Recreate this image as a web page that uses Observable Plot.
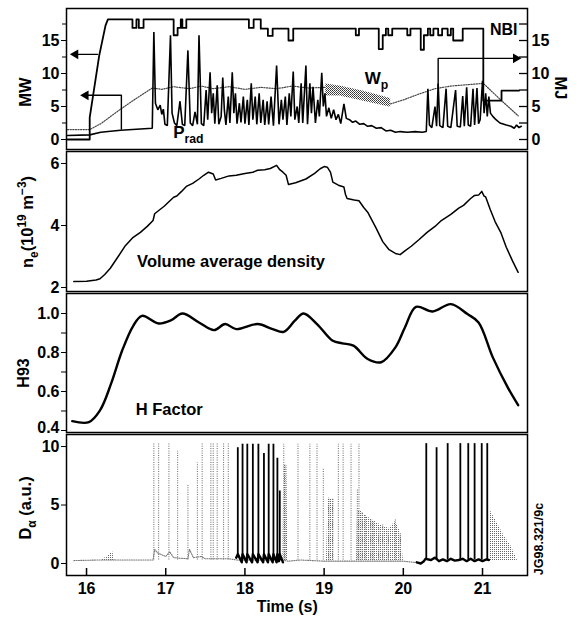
<!DOCTYPE html>
<html><head><meta charset="utf-8">
<script src="https://cdn.jsdelivr.net/npm/d3@7"></script>
<script src="https://cdn.jsdelivr.net/npm/@observablehq/plot@0.6"></script>
<style>
body{margin:0;background:#fff;}
#chart{width:577px;height:620px;}
#chart svg{display:block;}
</style></head><body>
<svg width="0" height="0" style="position:absolute"><defs>
<pattern id="dots" width="2" height="2" patternUnits="userSpaceOnUse"><rect width="1" height="1" fill="#333"/><rect x="1" y="1" width="1" height="1" fill="#555"/></pattern>
<pattern id="dotsLight" width="2" height="2" patternUnits="userSpaceOnUse"><rect width="1" height="1" fill="#666"/></pattern>
</defs></svg>
<div id="chart"></div>
<script>
// ---------- data ----------
const xTicks = [16, 17, 18, 19, 20, 21];
const mwTicks = [0, 5, 10, 15];
const mwMinor = [2.5, 7.5, 12.5, 17.5];
const neTicks = [2, 4, 6];
const hTicks = [0.6, 0.8, 1.0];
const hTickLow = [0.4];
const hMinor = [0.4, 0.5, 0.7, 0.9];
const daTicks = [0, 5, 10];

// NBI power (MW) [time, MW]
const nbi = [[15.76,0],[16.04,0],[16.04,3.3],[16.16,12.7],[16.24,17.3],[16.27,18.2],
[16.58,18.2],[16.58,16.9],[16.63,16.9],[16.63,18.2],[16.66,18.2],[16.66,16.9],[16.72,16.9],[16.72,18.2],
[17.10,18.2],[17.10,15.8],[17.15,15.8],[17.15,16.9],[17.19,16.9],[17.19,18.2],[17.21,18.2],[17.21,16.9],[17.26,16.9],[17.26,18.2],
[18.05,18.2],[18.05,16.9],[18.11,16.9],[18.11,18.2],[18.20,18.2],[18.20,16.8],[18.29,16.8],[18.29,15.7],[18.35,15.7],[18.35,16.8],
[18.55,16.8],[18.55,15.0],[18.61,15.0],[18.61,16.8],
[19.40,16.8],[19.40,15.8],[19.44,15.8],[19.44,16.8],
[19.69,16.8],[19.69,13.7],[19.74,13.7],[19.74,15.8],[19.78,15.8],[19.78,16.8],[19.81,16.8],[19.81,15.8],[19.86,15.8],[19.86,16.8],
[20.05,16.8],[20.05,15.8],[20.09,15.8],[20.09,16.8],
[20.22,16.8],[20.22,13.6],[20.26,13.6],[20.26,15.8],[20.31,15.8],[20.31,16.8],
[20.34,16.8],[20.34,15.8],[20.38,15.8],[20.38,16.8],
[20.44,16.8],[20.44,15.8],[20.49,15.8],[20.49,16.8],
[20.56,16.8],[20.56,15.8],[20.60,15.8],[20.60,16.8],
[20.63,16.8],[20.63,15.0],[20.75,15.0],[20.75,16.8],
[21.01,16.8],[21.01,5.9],[21.24,5.9],[21.24,7.4],[21.46,7.4]];

// Radiated power (MW) [time, MW]
const prad = [[15.76,0.6],[16.04,0.7],[16.18,1.1],[16.43,1.4],[16.83,1.7],[16.85,16.3],[16.87,5.5],[16.90,4.5],[16.93,5.2],[16.95,3.8],[16.97,4.6],[16.99,2.3],[17.02,2.1],[17.06,15.8],[17.08,4.0],[17.11,2.5],[17.14,2.1],[17.18,5.8],[17.21,2.3],[17.24,2.1],[17.28,13.5],[17.31,2.5],[17.34,2.1],[17.37,4.2],[17.40,2.3],[17.42,15.8],[17.45,2.4],[17.48,2.1],[17.51,7.5],[17.53,3.0],[17.56,10.2],[17.58,4.0],[17.60,7.0],[17.62,2.4],[17.65,8.2],[17.67,2.3],[17.70,3.5],[17.72,9.4],[17.74,4.5],[17.76,2.2],[17.79,6.5],[17.81,2.5],[17.84,10.2],[17.86,4.0],[17.88,7.0],[17.90,2.4],[17.93,5.5],[17.95,2.6],[17.98,6.5],[18.00,2.4],[18.03,6.0],[18.05,2.2],[18.08,8.5],[18.10,3.0],[18.13,6.5],[18.15,2.3],[18.18,7.0],[18.20,2.5],[18.23,6.0],[18.25,2.2],[18.28,5.8],[18.30,2.3],[18.33,6.5],[18.36,2.1],[18.40,11.2],[18.43,2.3],[18.46,6.0],[18.48,3.0],[18.51,6.5],[18.53,2.2],[18.56,7.0],[18.58,3.5],[18.61,10.3],[18.63,3.0],[18.66,5.0],[18.68,2.5],[18.71,8.5],[18.73,2.5],[18.77,11.2],[18.79,2.3],[18.82,8.5],[18.84,4.0],[18.86,8.0],[18.89,2.5],[18.92,6.0],[18.94,3.5],[18.97,10.1],[18.99,5.0],[19.01,7.0],[19.03,3.5],[19.06,4.8],[19.09,3.2],[19.12,4.5],[19.15,3.0],[19.18,3.8],[19.21,2.4],[19.25,5.4],[19.28,3.2],[19.32,3.0],[19.36,2.6],[19.40,2.8],[19.45,2.3],[19.50,2.4],[19.55,2.0],[19.60,2.1],[19.66,1.7],[19.72,1.8],[19.78,1.3],[19.84,1.4],[19.90,1.1],[19.96,1.2],[20.05,1.1],[20.15,1.2],[20.24,1.1],[20.29,1.2],[20.31,7.7],[20.33,2.2],[20.36,1.8],[20.40,5.0],[20.42,2.0],[20.44,8.5],[20.46,2.1],[20.50,1.8],[20.54,7.7],[20.56,2.0],[20.60,1.8],[20.66,7.5],[20.68,2.0],[20.72,1.9],[20.75,6.6],[20.77,2.0],[20.80,7.9],[20.82,2.2],[20.85,2.0],[20.88,7.7],[20.90,2.2],[20.93,7.8],[20.95,2.4],[20.97,3.0],[21.00,8.9],[21.02,4.0],[21.04,7.0],[21.06,3.5],[21.08,6.5],[21.10,4.0],[21.13,3.5],[21.17,3.0],[21.22,2.5],[21.30,2.2],[21.36,2.0],[21.40,1.7],[21.43,2.2],[21.46,1.8],[21.49,2.0]];

// Stored energy Wp (MJ) [time, MJ]
const wpA = [[15.76,1.5],[16.04,1.5],[16.18,2.4],[16.43,4.6],[16.6,6.0],[16.83,7.8],[16.95,7.6],[17.1,8.0],[17.3,7.7],[17.45,8.1],[17.6,7.7],[17.8,8.0],[18.0,7.6],[18.2,7.9],[18.4,7.7],[18.6,8.1],[18.8,7.8],[19.02,7.9]];
const wpB = [[19.84,5.4],[20.0,6.0],[20.2,6.9],[20.4,7.7],[20.6,8.1],[20.8,8.3],[21.01,8.5],[21.23,6.0],[21.45,3.6]];
// oscillating Wp band [time, low, high]
const wpBand = [[19.02,6.6,8.4],[19.2,6.6,8.1],[19.5,5.8,7.3],[19.84,4.9,6.2]];

// annotation arrows [time, value]
const nbiArrow = [[16.14,12.9],[15.86,12.9]];
const pradArrow = [[16.44,1.6],[16.44,6.7],[15.99,6.7]];
const wpArrow = [[20.44,7.8],[20.44,12.3],[21.41,12.3]];
const arrowHeads = [[15.86,12.9,-90],[15.99,6.7,-90],[21.42,12.3,90]];

// Volume average density (1e19 m^-3) [time, ne]
const ne = [[15.84,2.19],[16.0,2.20],[16.12,2.24],[16.17,2.28],[16.23,2.42],[16.30,2.62],[16.40,3.0],[16.49,3.35],[16.58,3.6],[16.68,3.78],[16.77,3.98],[16.84,4.16],[16.86,4.38],[16.98,4.62],[17.10,4.91],[17.14,4.95],[17.20,5.1],[17.26,5.26],[17.34,5.36],[17.42,5.5],[17.48,5.62],[17.54,5.72],[17.60,5.66],[17.63,5.47],[17.70,5.52],[17.80,5.6],[17.89,5.62],[18.00,5.68],[18.10,5.72],[18.16,5.78],[18.25,5.8],[18.32,5.84],[18.40,5.94],[18.44,5.8],[18.48,5.72],[18.52,5.62],[18.55,5.32],[18.64,5.38],[18.77,5.5],[18.88,5.68],[18.95,5.83],[19.00,5.9],[19.04,5.88],[19.08,5.72],[19.11,5.4],[19.18,5.3],[19.25,5.24],[19.27,5.0],[19.29,4.87],[19.38,4.82],[19.44,4.8],[19.50,4.58],[19.55,4.43],[19.65,3.95],[19.74,3.48],[19.82,3.22],[19.90,3.1],[19.96,3.06],[20.02,3.18],[20.10,3.33],[20.20,3.55],[20.30,3.78],[20.40,3.97],[20.48,4.16],[20.60,4.36],[20.70,4.56],[20.76,4.65],[20.85,4.87],[20.90,4.97],[20.95,4.98],[20.99,5.1],[21.02,4.95],[21.04,4.92],[21.10,4.5],[21.16,4.12],[21.23,3.78],[21.30,3.3],[21.38,2.85],[21.45,2.49]];

// H93 factor [time, H]
const h93 = [[15.82,0.448],[16.03,0.443],[16.17,0.503],[16.31,0.64],[16.45,0.81],[16.59,0.937],[16.70,0.988],[16.91,0.949],[17.07,0.966],[17.21,1.0],[17.42,0.954],[17.61,0.915],[17.75,0.946],[17.89,0.92],[18.16,0.946],[18.35,0.92],[18.49,0.906],[18.63,0.963],[18.74,1.0],[18.91,0.946],[19.11,0.86],[19.23,0.847],[19.37,0.835],[19.55,0.767],[19.72,0.75],[19.90,0.826],[20.02,0.928],[20.16,1.034],[20.37,1.01],[20.60,1.048],[20.81,0.997],[20.95,0.954],[21.13,0.775],[21.32,0.62],[21.45,0.53]];

// D-alpha: dotted ELM spikes [time, base, top]
const daGray = [[16.85,0.3,10.3],[16.91,0.3,10.3],[17.04,0.3,10.3],[17.15,0.3,9.6],[17.28,0.3,6.7],[17.40,0.3,8.6],[17.46,0.3,10.3],[17.57,0.3,10.3],[17.60,0.3,10.3],[17.65,0.3,10.3],[17.73,0.3,10.3],[17.79,0.3,10.3],
[18.49,0.3,10.2],[18.51,0.3,8.4],[18.67,0.3,10.2],[18.82,0.3,10.2],[18.91,0.3,10.2],[18.99,0.3,8.1],[19.06,0.3,5.6],[19.11,0.3,5.5],[19.18,0.3,10.2],[19.24,0.3,10.2],[19.34,0.3,10.2],[19.42,0.3,6.3],[19.44,0.3,10.2],[19.48,0.3,4.4],[19.52,0.3,4.1],[19.59,0.3,3.8],[19.62,0.3,3.6],[19.69,0.3,3.0],[19.74,0.3,3.3],[19.81,0.3,2.8],[19.90,0.3,3.8],[19.96,0.3,2.5]];
// dotted D-alpha baseline [time, value]
const daBase = [[15.84,0.25],[16.15,0.3],[16.6,0.3],[16.84,0.3],[16.86,1.2],[16.9,0.9],[17.0,0.6],[17.05,1.0],[17.1,0.5],[17.28,0.4],[17.3,1.2],[17.35,0.5],[17.45,0.6],[17.5,0.4],[17.8,0.4],[17.9,0.3],[18.45,0.3],[18.55,0.2],[18.7,0.3],[19.0,0.2],[19.5,0.2],[20.0,0.2],[20.2,0.05]];
// densely sampled (shaded) D-alpha regions [group, time, top]
const daDense = [["e",16.20,0.3],["e",16.28,0.7],["e",16.33,1.0],["e",16.36,0.3],
["a",18.48,0.3],["a",18.49,8.4],["a",18.53,8.4],["a",18.54,0.3],
["b",19.03,0.3],["b",19.05,5.6],["b",19.12,5.5],["b",19.13,0.3],
["c",19.41,0.3],["c",19.42,4.6],["c",19.48,4.4],["c",19.52,4.1],["c",19.59,3.8],["c",19.66,3.5],["c",19.74,3.2],["c",19.82,3.0],["c",19.90,3.6],["c",19.97,2.6],["c",20.0,0.3],
["d",21.09,0.3],["d",21.10,4.5],["d",21.19,3.4],["d",21.27,2.4],["d",21.36,1.5],["d",21.44,0.3]];
// solid D-alpha spikes [time, base, top]
const daBlack = [[17.91,0.5,9.9],[17.97,0.5,10.2],[18.03,0.5,10.2],[18.10,0.5,10.2],[18.17,0.5,10.2],[18.24,0.5,9.4],[18.30,0.5,10.2],[18.36,0.5,10.2],[18.41,0.5,9.0],[18.44,0.5,6.2],
[20.29,0.3,10.25],[20.42,0.3,9.9],[20.56,0.3,10.25],[20.72,0.3,10.25],[20.82,0.3,10.25],[20.90,0.3,10.25],[20.99,0.3,10.25],[21.06,0.3,10.25]];
const daBlackBase1 = [[17.89,0.5],[17.91,0.8],[17.96,0.1],[17.97,0.8],[18.02,0.1],[18.03,0.8],[18.09,0.1],[18.10,0.8],[18.16,0.1],[18.17,0.8],[18.23,0.1],[18.24,0.8],[18.29,0.1],[18.30,0.8],[18.35,0.1],[18.36,0.8],[18.40,0.1],[18.41,0.8],[18.43,0.2],[18.44,0.8],[18.48,0.1]];
const daBlackBase2 = [[20.17,0.1],[20.22,0.0],[20.26,0.2],[20.28,0.4],[20.35,0.3],[20.40,0.5],[20.45,0.2],[20.50,0.35],[20.55,0.2],[20.60,0.4],[20.65,0.25],[20.70,0.3],[20.75,0.4],[20.80,0.2],[20.85,0.4],[20.90,0.2],[20.95,0.35],[21.00,0.2],[21.05,0.35],[21.08,0.3]];

// ---------- layout / drawing ----------
const FONT = '"Liberation Sans Narrow","Liberation Sans",Arial,Helvetica,sans-serif';
const X_DOMAIN = [15.747, 21.568];
const FRAME_W = 577 - 66 - 50;

function panel(height, mt, mb, yDomain, marks) {
  return Plot.plot({
    width: 577, height, marginLeft: 66, marginRight: 50, marginTop: mt, marginBottom: mb,
    x: {domain: X_DOMAIN, axis: null},
    y: {domain: yDomain, axis: null},
    style: {fontFamily: FONT, fontSize: "16px", fontWeight: "bold", color: "#000", background: "transparent", overflow: "visible"},
    marks
  });
}

function addText(svg, x, y, parts, {anchor = "start", rotate = 0, size = 16} = {}) {
  const t = d3.select(svg).append("text")
    .attr("transform", `translate(${x},${y}) rotate(${rotate})`)
    .attr("text-anchor", anchor).attr("font-size", size)
    .attr("font-family", FONT).attr("font-weight", "bold").attr("fill", "#000");
  let shift = 0;
  for (const p of parts) {
    const target = p.sub ? size * 0.32 : p.sup ? -size * 0.42 : 0;
    t.append("tspan").attr("dy", target - shift)
      .attr("font-size", (p.sub || p.sup) ? size * 0.72 : size).text(p.t);
    shift = target;
  }
}
function dataText(plot, tx, vy, parts, opts) {
  addText(plot, plot.scale("x").apply(tx), plot.scale("y").apply(vy), parts, opts);
}

const chart = document.getElementById("chart");
const frame = () => Plot.frame({stroke: "#000", strokeWidth: 1.5});
const intFmt = d => String(d);

// Panel 1: powers and stored energy
const p1 = panel(150, 8, 1, [-1.515, 19.85], [
  Plot.areaY(wpBand, {x: d => d[0], y1: d => d[1], y2: d => d[2], fill: "url(#dots)"}),
  Plot.line(wpA, {x: d => d[0], y: d => d[1], stroke: "#444", strokeWidth: 1.2, strokeDasharray: "1.2,1.4"}),
  Plot.line(wpB, {x: d => d[0], y: d => d[1], stroke: "#444", strokeWidth: 1.2, strokeDasharray: "1.2,1.4"}),
  Plot.line(prad, {x: d => d[0], y: d => d[1], stroke: "#000", strokeWidth: 1.6, strokeLinejoin: "miter"}),
  Plot.line(nbi, {x: d => d[0], y: d => d[1], stroke: "#000", strokeWidth: 1.8}),
  Plot.line(nbiArrow, {x: d => d[0], y: d => d[1], stroke: "#000", strokeWidth: 1.4}),
  Plot.line(pradArrow, {x: d => d[0], y: d => d[1], stroke: "#000", strokeWidth: 1.4}),
  Plot.line(wpArrow, {x: d => d[0], y: d => d[1], stroke: "#000", strokeWidth: 1.4}),
  Plot.dot(arrowHeads, {x: d => d[0], y: d => d[1], rotate: d => d[2], symbol: "triangle", r: 3.6, fill: "#000", stroke: null}),
  Plot.axisY({ticks: mwTicks, tickSize: 5, tickPadding: 2, tickFormat: intFmt, label: null}),
  Plot.axisY({ticks: mwMinor, tickSize: 4, tickFormat: () => "", label: null}),
  Plot.axisY({anchor: "right", ticks: mwTicks, tickSize: 0, tickPadding: 4, tickFormat: intFmt, label: null}),
  Plot.ruleY([...mwTicks, ...mwMinor], {insetLeft: FRAME_W - 8, stroke: "#000", strokeWidth: 1.3}),
  frame()
]);
chart.append(p1);
addText(p1, 31, 92, [{t: "MW"}], {anchor: "middle", rotate: -90, size: 16.5});
addText(p1, 555, 88, [{t: "MJ"}], {anchor: "middle", rotate: 90, size: 16.5});
dataText(p1, 21.10, 15.76, [{t: "NBI"}], {size: 16});
dataText(p1, 19.52, 8.33, [{t: "W"}, {t: "p", sub: true}], {size: 17});
dataText(p1, 17.10, 0.15, [{t: "P"}, {t: "rad", sub: true}], {size: 17});

// Panel 2: density
const p2 = panel(142, 1, 1, [1.871, 6.387], [
  Plot.line(ne, {x: d => d[0], y: d => d[1], stroke: "#000", strokeWidth: 1.5}),
  Plot.axisY({ticks: neTicks, tickSize: 5, tickPadding: 2, tickFormat: intFmt, label: null}),
  frame()
]);
chart.append(p2);
addText(p2, 33, 72, [{t: "n"}, {t: "e", sub: true}, {t: "(10"}, {t: "19", sup: true}, {t: " m"}, {t: "\u22123", sup: true}, {t: ")"}], {anchor: "middle", rotate: -90, size: 16.5});
dataText(p2, 17.83, 2.65, [{t: "Volume average density"}], {anchor: "middle", size: 16.5});

// Panel 3: H factor
const p3 = panel(141, 1, 1, [0.3897, 1.1026], [
  Plot.line(h93, {x: d => d[0], y: d => d[1], stroke: "#000", strokeWidth: 2.4, curve: "catmull-rom"}),
  Plot.axisY({ticks: hTicks, tickSize: 5, tickPadding: 2, tickFormat: d3.format(".1f"), label: null}),
  Plot.axisY({ticks: hTickLow, tickSize: 0, tickPadding: 7, tickFormat: d3.format(".1f"), dy: -3, label: null}),
  Plot.axisY({ticks: hMinor, tickSize: 5, tickFormat: () => "", label: null}),
  frame()
]);
chart.append(p3);
addText(p3, 29, 81, [{t: "H93"}], {anchor: "middle", rotate: -90, size: 16});
dataText(p3, 17.05, 0.477, [{t: "H Factor"}], {anchor: "middle", size: 16.5});

// Panel 4: D-alpha
const p4 = panel(187, 1, 45, [-1.026, 11.03], [
  Plot.areaY(daDense, {x: d => d[1], y1: 0.2, y2: d => d[2], z: d => d[0], fill: "url(#dotsLight)"}),
  Plot.line(daBase, {x: d => d[0], y: d => d[1], stroke: "#777", strokeWidth: 1.1, strokeDasharray: "1,1.3"}),
  Plot.ruleX(daGray, {x: d => d[0], y1: d => d[1], y2: d => d[2], stroke: "#777", strokeWidth: 1.1, strokeDasharray: "1,1.3"}),
  Plot.ruleX(daBlack, {x: d => d[0], y1: d => d[1], y2: d => d[2], stroke: "#000", strokeWidth: 1.8}),
  Plot.line(daBlackBase1, {x: d => d[0], y: d => d[1], stroke: "#000", strokeWidth: 2.4}),
  Plot.line(daBlackBase2, {x: d => d[0], y: d => d[1], stroke: "#000", strokeWidth: 2.4}),
  Plot.axisY({ticks: daTicks, tickSize: 5, tickPadding: 2, tickFormat: intFmt, label: null}),
  Plot.axisX({ticks: xTicks, tickSize: 0, tickPadding: 7, tickFormat: intFmt, label: null}),
  Plot.ruleX(xTicks, {insetTop: 141 - 7, stroke: "#000", strokeWidth: 1.5}),
  frame()
]);
chart.append(p4);
addText(p4, 31, 75, [{t: "D"}, {t: "\u03b1", sub: true}, {t: " (a.u.)"}], {anchor: "middle", rotate: -90, size: 16.5});
addText(p4, p4.scale("x").apply(18.54), 179, [{t: "Time (s)"}], {anchor: "middle", size: 16});
addText(p4, 543, 106, [{t: "JG98.321/9c"}], {anchor: "middle", rotate: -90, size: 12.5});
</script>
</body></html>
